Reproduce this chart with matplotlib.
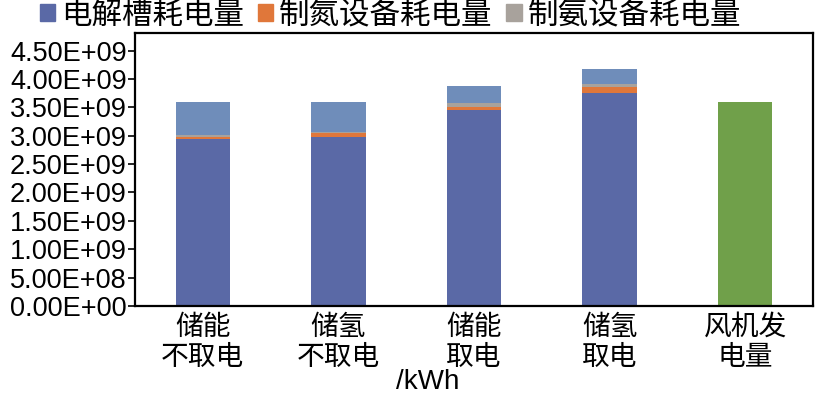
import matplotlib
matplotlib.use("Agg")
import numpy as np
import matplotlib.pyplot as plt
from matplotlib.patches import Patch

plt.rcParams["font.family"] = ["Noto Sans CJK SC", "DejaVu Sans"]

# categories along the x axis
categories = ["储能\n不取电", "储氢\n不取电", "储能\n取电", "储氢\n取电", "风机发\n电量"]

# stacked consumption (kWh)
electrolyzer = [2.95e9, 2.98e9, 3.46e9, 3.76e9]
nitrogen_unit = [0.035e9, 0.07e9, 0.05e9, 0.09e9]
ammonia_unit = [0.035e9, 0.02e9, 0.07e9, 0.07e9]
remainder = [0.58e9, 0.53e9, 0.29e9, 0.25e9]
wind_output = 3.6e9

legend_labels = ["电解槽耗电量", "制氮设备耗电量", "制氨设备耗电量"]
yticks = np.arange(0, 4.51e9, 0.5e9)

c_blue = "#5a69a6"
c_orange = "#e0773a"
c_gray = "#a8a29c"
c_light = "#6f8dba"
c_green = "#70a04a"

fig = plt.figure(figsize=(8.15, 3.97), dpi=100)
ax = fig.add_axes([0.1656, 0.2292, 0.832, 0.6877])

x = np.arange(len(categories))
w = 0.4
xs = x[:4]
bottom = np.zeros(4)
for vals, col in [(electrolyzer, c_blue), (nitrogen_unit, c_orange),
                  (ammonia_unit, c_gray), (remainder, c_light)]:
    ax.bar(xs, vals, w, bottom=bottom, color=col, linewidth=0)
    bottom = bottom + np.array(vals)
ax.bar(x[4], wind_output, w, color=c_green, linewidth=0)

ax.set_xlim(-0.5, 4.5)
ax.set_ylim(0, 4.81e9)
ax.set_yticks(yticks)
ax.set_yticklabels([f"{v:.2E}" for v in yticks], family="Liberation Sans", fontsize=19.5)
ax.tick_params(axis="y", direction="out", length=5, width=1.2, pad=1)
ax.set_xticks(x)
ax.set_xticklabels(categories, fontsize=20, linespacing=1.0)
ax.tick_params(axis="x", length=0, pad=4)
for s in ax.spines.values():
    s.set_linewidth(1.6)
    s.set_color("black")

ax.set_xlabel("/kWh", family="Liberation Sans", fontsize=20)
ax.xaxis.set_label_coords(0.432, -0.232)

handles = [Patch(color=c) for c in (c_blue, c_orange, c_gray)]
fig.legend(handles, legend_labels, loc="center", bbox_to_anchor=(0.479, 0.962),
           ncol=3, frameon=False, fontsize=22, handlelength=0.5, handleheight=0.5,
           handletextpad=0.2, columnspacing=0.45, borderpad=0)

fig.savefig("out.png", dpi=100)
